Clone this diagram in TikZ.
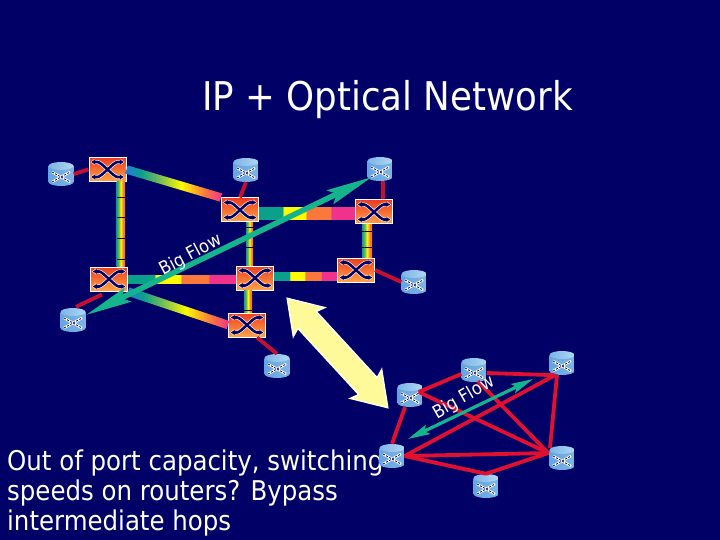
\documentclass[tikz,border=0pt]{standalone}
\usepackage{fontspec}
\setmainfont{DejaVu Sans Condensed}
\usetikzlibrary{shapes.arrows,arrows.meta,calc}

\definecolor{slidebg}{RGB}{0,0,102}
\definecolor{fibreteal}{RGB}{10,160,140}
\definecolor{fibregreen}{RGB}{110,185,90}
\definecolor{fibreyellow}{RGB}{255,250,0}
\definecolor{fibreorange}{RGB}{250,120,60}
\definecolor{fibrepink}{RGB}{240,50,140}
\definecolor{fibreblue}{RGB}{40,120,220}
\definecolor{flowgreen}{RGB}{20,180,140}
\definecolor{linkdark}{RGB}{200,16,46}
\definecolor{linkred}{RGB}{225,16,46}
\definecolor{oxctop}{RGB}{238,60,30}
\definecolor{oxcbottom}{RGB}{255,165,70}
\definecolor{routerleft}{RGB}{100,165,225}
\definecolor{routerlight}{RGB}{210,235,250}
\definecolor{routerright}{RGB}{125,180,230}
\definecolor{routertopl}{RGB}{125,180,230}
\definecolor{routertopr}{RGB}{175,215,242}

\pgfdeclarehorizontalshading{fibrealong}{100bp}{color(0bp)=(fibreblue); color(25bp)=(fibreblue);
	color(33bp)=(fibreteal); color(42bp)=(fibregreen); color(54bp)=(fibreyellow);
	color(66bp)=(fibreorange); color(75bp)=(fibrepink); color(100bp)=(fibrepink)}
\pgfdeclarehorizontalshading{fibreacross}{100bp}{color(0bp)=(fibreteal); color(25bp)=(fibreteal);
	color(38bp)=(fibregreen); color(50bp)=(fibreyellow); color(64bp)=(fibreorange); color(75bp)=(fibreorange); color(100bp)=(fibreorange)}
\pgfdeclarehorizontalshading{fibreblock}{100bp}{color(0bp)=(fibreteal); color(37bp)=(fibreteal);
	color(38bp)=(fibreyellow); color(49bp)=(fibreyellow); color(50bp)=(fibreorange);
	color(62bp)=(fibreorange); color(63bp)=(fibrepink); color(100bp)=(fibrepink)}

\newcommand{\oxccross}{
	\begin{scope}[shift={(path picture bounding box.center)}]
		\foreach \s in {1,-1}{
			\draw[white,line width=3.8pt,{Latex[length=4pt,width=7pt]}-{Latex[length=4pt,width=7pt]}] (-17,-7.5*\s) -- (-10,-7.5*\s) .. controls (-6,-7.5*\s) and (6,7.5*\s) .. (10,7.5*\s) -- (17,7.5*\s);
		}
		\foreach \s in {1,-1}{
			\draw[slidebg,line width=2.6pt,{Latex[length=4pt,width=5.5pt]}-{Latex[length=4pt,width=5.5pt]}] (-16.5,-7.5*\s) -- (-10,-7.5*\s) .. controls (-6,-7.5*\s) and (6,7.5*\s) .. (10,7.5*\s) -- (16.5,7.5*\s);
		}
	\end{scope}}
\newcommand{\routerdrum}{
	\begin{scope}[shift={(path picture bounding box.center)}]
		\shade[left color=routerleft,middle color=routerlight,right color=routerright] (-12.5,-8) -- (-12.5,8) arc[start angle=180,end angle=0,x radius=12.5,y radius=4] -- (12.5,-8) -- cycle;
		\shade[left color=routertopl,right color=routertopr] (0,-8) ellipse (12.5 and 4);
		\draw[white,line width=2.4pt] (-9,-2) -- (9,8) (-9,8) -- (9,-2);
		\draw[slidebg,line width=0.8pt,dash pattern=on 2pt off 1.5pt] (-9,-2) -- (9,8) (-9,8) -- (9,-2);
	\end{scope}}

\tikzset{
	oxc/.style={rectangle,draw=white,line width=1pt,inner sep=0,minimum width=37pt,minimum height=24pt,top color=oxctop,bottom color=oxcbottom,path picture={\oxccross}},
	router/.style={rectangle,inner sep=0,minimum width=25pt,minimum height=24pt,path picture={\routerdrum}},
	uplink/.style={linkdark,line width=3.8pt},
	meshlink/.style={linkred,line width=3.8pt},
	fibrediagbar/.style={rectangle,inner sep=0,minimum height=8.5pt,shading=fibrealong},
	fibreup/.style={shading=fibreacross},
	fibreside/.style={shading=fibreblock},
	flow/.style={flowgreen,line width=5.5pt,{Stealth[length=46pt,width=15pt,inset=7pt]}-{Stealth[length=46pt,width=15pt,inset=7pt]}},
	smallflow/.style={flowgreen,line width=3.2pt,{Stealth[length=22pt,width=10pt,inset=4pt]}-{Stealth[length=22pt,width=10pt,inset=4pt]}},
	flowtext/.style={white,font=\fontsize{18}{18}\selectfont,inner sep=0},
	titletext/.style={white,font=\fontsize{39.6}{40}\selectfont,inner sep=0},
	bodytext/.style={white,font=\fontsize{27.2}{30}\selectfont,align=left,inner sep=0},
	swaparrow/.style={double arrow,draw=white,line width=1.2pt,fill=yellow!40!white,inner xsep=0,inner ysep=12pt,minimum height=149pt,double arrow head extend=9pt,double arrow tip angle=67,double arrow head indent=3pt,rotate=-47.4}
}

\newcommand{\fibrediag}[3]{
	\path let \p1=($(#2)-(#1)$), \n1={atan2(\y1,\x1)}, \n2={veclen(\x1,\y1)} in
	node (#3) [fibrediagbar,minimum width=\n2,rotate=\n1] at ($(#1)!.5!(#2)$) {};}

\begin{document}
\begin{tikzpicture}[x=1pt,y=-1pt]
	\useasboundingbox (0,0) rectangle (720,540);
	\fill[slidebg] (0,0) rectangle (720,540);
	
	%Texte
	\node (title) [titletext] at (387.5,100) {IP + Optical Network};
	\node (note) [bodytext,anchor=north west] at (7,450) {Out of port capacity, switching\\speeds on routers? Bypass\\intermediate hops};
	
	%Koppler
	\node (oxctl) [oxc] at (107.5,169.5) {};
	\node (oxctc) [oxc] at (240,210) {};
	\node (oxctr) [oxc] at (374,212) {};
	\node (oxcml) [oxc] at (109,279) {};
	\node (oxcmc) [oxc] at (255,278) {};
	\node (oxcmr) [oxc] at (356,270) {};
	\node (oxcbc) [oxc] at (247,325) {};
	
	%Router oben
	\node (rtl) [router] at (61,174) {};
	\node (rtc) [router] at (246,170) {};
	\node (rtr) [router] at (380,169) {};
	\node (rmr) [router] at (414,282) {};
	\node (rbl) [router] at (73,320) {};
	\node (rbc) [router] at (277,366) {};
	
	%Router unten
	\node (mg) [router] at (410,395) {};
	\node (mh) [router] at (474,370) {};
	\node (mi) [router] at (562,363) {};
	\node (mj) [router] at (392,456) {};
	\node (mk) [router] at (562,458) {};
	\node (ml) [router] at (486,486) {};
	
	%Fasern
	\fibrediag{oxctl.east}{oxctc.north west}{fdiagtop}
	\fibrediag{oxcml.south east}{oxcbc.west}{fdiagbot}
	\shade[fibreup] ($(oxctl.south)+(9,0)$) rectangle ($(oxcml.north)+(16,0)$);
	\shade[fibreup] ($(oxctc.south)+(6,0)$) rectangle ($(oxcmc.north)+(-2,0)$);
	\shade[fibreup] ($(oxcmc.south)+(-11,0)$) rectangle ($(oxcbc.north)+(5,0)$);
	\shade[fibreup] ($(oxctr.south)+(-12,0)$) rectangle ($(oxcmr.north)+(16,0)$);
	\shade[fibreside] ($(oxcml.east)+(0,-4)$) rectangle ($(oxcmc.west)+(0,5)$);
	\shade[fibreside] ($(oxctc.east)+(0,-2)$) rectangle ($(oxctr.west)+(0,8)$);
	\shade[fibreside] ($(oxcmc.east)+(0,-6)$) rectangle ($(oxcmr.west)+(0,10)$);
	\foreach \y in {197,217,238,259}
		\draw[black,line width=0.6pt] (117,\y) -- (125,\y);
	\foreach \y in {227,247}
		\draw[black,line width=0.6pt] (246,\y) -- (254,\y);
	\draw[black,line width=0.6pt] (244,310) -- (252,310);
	\foreach \y in {231,247}
		\draw[black,line width=0.6pt] (362,\y) -- (372,\y);
	
	%Links oben
	\draw[uplink] (rtl.east) -- (oxctl.west);
	\draw[uplink] (rtc.south) -- (oxctc.north);
	\draw[uplink] ($(rtr.south)+(3,0)$) -- ($(oxctr.north)+(9,0)$);
	\draw[uplink] (oxcmr.east) -- (rmr.west);
	\draw[uplink] ($(oxcml.south)+(-7,3)$) -- ($(rbl.north)+(3,-1)$);
	\draw[uplink] ($(oxcbc.south)+(10,0)$) -- (rbc.north);
	
	%Links unten
	\draw[meshlink] (mj.north) -- ($(mg.south)+(-5,0)$);
	\draw[meshlink] ($(mg.east)+(-4,-3)$) -- ($(mh.west)+(0,4)$);
	\draw[meshlink] ($(mh.east)+(0,3)$) -- ($(mi.south)+(-7,0)$);
	\draw[meshlink] ($(mg.east)+(-4,-3)$) -- ($(mk.west)+(-1,-5)$);
	\draw[meshlink] ($(mh.south)+(4,-1)$) -- ($(mk.west)+(-1,-5)$);
	\draw[meshlink] ($(mi.south)+(-5,0)$) -- ($(mk.north)+(-12,2)$);
	\draw[meshlink] (mj.east) -- ($(mi.south)+(-7,0)$);
	\draw[meshlink] (mj.east) -- ($(mk.west)+(-1,-5)$);
	\draw[meshlink] (mj.east) -- (ml.north);
	\draw[meshlink] (ml.north) -- ($(mk.west)+(-1,-5)$);
	
	%Pfeile
	\draw[flow] ($(rbl)+(13,-5)$) -- ($(rtr)+(-8,8)$);
	\draw[smallflow] ($(mj)+(16,-17)$) -- ($(mi)+(-29,16)$);
	\node (swap) [swaparrow] at (337.5,353) {};
	\node (bigup) [flowtext,rotate=28] at (191,255) {Big Flow};
	\node (bigdown) [flowtext,rotate=30] at (464,398) {Big Flow};
	
\end{tikzpicture}
\end{document}
